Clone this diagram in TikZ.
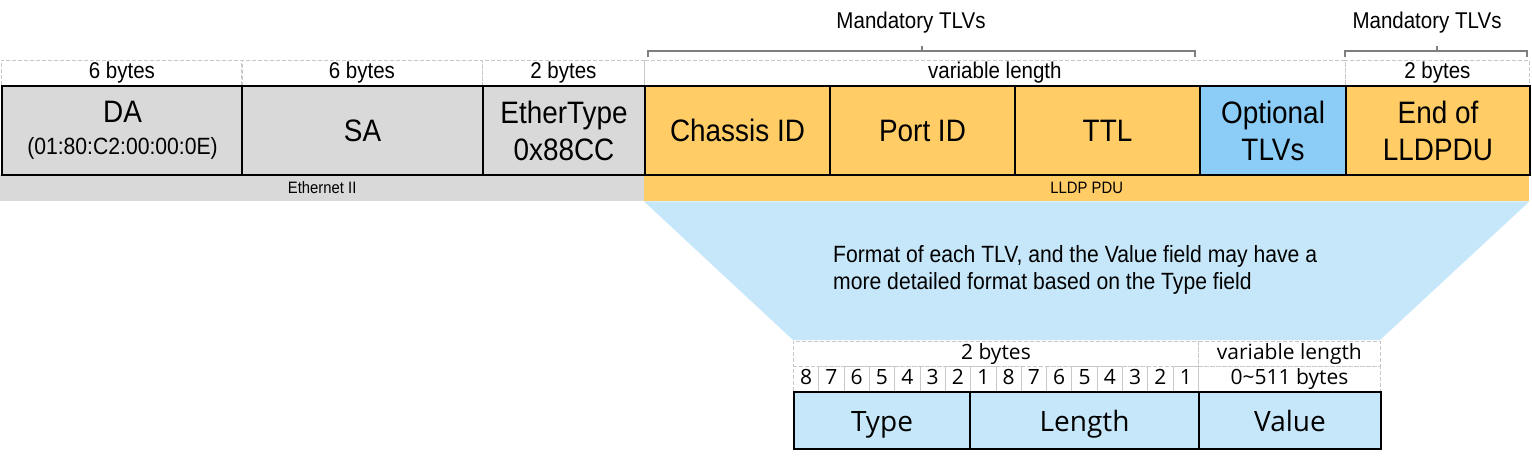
\documentclass[tikz,border=0pt]{standalone}
\usepackage{fontspec}
\setmainfont{Liberation Sans}[FakeStretch=0.9]
\newfontfamily\osfont{Open Sans}
\definecolor{ethgray}{HTML}{D9D9D9}
\definecolor{lorange}{HTML}{FFCC66}
\definecolor{optblue}{HTML}{8BCDF7}
\definecolor{tlvblue}{HTML}{C6E7FA}
\definecolor{dashgray}{HTML}{C8C8C8}
\definecolor{brgray}{HTML}{7F7F7F}
\begin{document}
\begin{tikzpicture}[x=1pt,y=-1pt,
  field/.style={draw=black,line width=2pt,anchor=north west,inner sep=0pt,minimum height=89pt,align=center,font=\fontsize{31}{37}\selectfont},
  strip/.style={anchor=north west,inner sep=0pt,minimum height=27pt,text height=12pt,text depth=0pt,font=\fontsize{16.5}{18}\selectfont},
  lbl/.style={draw=dashgray,dashed,dash pattern=on 4pt off 2pt,line width=0.8pt,anchor=north west,inner sep=0pt,minimum height=25pt,text height=15pt,text depth=4pt,font=\fontsize{22.8}{26}\selectfont},
  blbl/.style={lbl,font=\osfont\fontsize{21}{24}\selectfont},
  bit/.style={blbl,minimum width=25.3125pt},
  tfield/.style={draw=black,line width=2pt,anchor=north west,inner sep=0pt,minimum height=57pt,text height=24pt,text depth=3pt,fill=tlvblue,font=\osfont\fontsize{28}{32}\selectfont},
  bracket/.style={draw=brgray,line width=1.2pt},
  note/.style={font=\fontsize{22.8}{26}\selectfont,inner sep=0pt}
]
\useasboundingbox (0,0) rectangle (1532,456);

% size labels (top)
\node[lbl,minimum width=241pt] (l1) at (1,60) {6 bytes};
\node[lbl,minimum width=241pt] (l2) at (241,60) {6 bytes};
\node[lbl,minimum width=162pt] (l3) at (482,60) {2 bytes};
\node[lbl,minimum width=701pt] (l4) at (644,60) {variable length};
\node[lbl,minimum width=184pt] (l5) at (1345,60) {2 bytes};

% brackets
\draw[bracket] (648,57) -- (648,51) -- (1195,51) -- (1195,57);
\draw[bracket] (922,51) -- (922,46);
\node[note] (m1) at (911,23) {Mandatory TLVs};
\draw[bracket] (1345,57) -- (1345,51) -- (1527,51) -- (1527,57);
\draw[bracket] (1437,51) -- (1437,46);
\node[note] (m2) at (1427,23) {Mandatory TLVs};

% strips
\node[strip,fill=ethgray,minimum width=644pt] (eth) at (0,174) {Ethernet II};
\node[strip,fill=lorange,minimum width=885pt] (lldp) at (644,174) {LLDP PDU};

% trapezoid
\fill[tlvblue] (lldp.south west) -- (lldp.south east) -- (1380,340) -- (793,340) -- cycle;
\node[note,anchor=north west,align=left,font=\fontsize{23.5}{27}\selectfont] (fmt) at (833,245)
  {Format of each TLV, and the Value field may have a\\more detailed format based on the Type field};

% main fields
\node[field,fill=ethgray,minimum width=241pt] (da) at (1,85) {DA\\[-5pt]{\fontsize{23.5}{26}\selectfont (01:80:C2:00:00:0E)}};
\node[field,fill=ethgray,minimum width=241pt] (sa) at (241,85) {SA};
\node[field,fill=ethgray,minimum width=162pt] (et) at (482,85) {EtherType\\0x88CC};
\node[field,fill=lorange,minimum width=185pt] (ch) at (644,85) {Chassis ID};
\node[field,fill=lorange,minimum width=185pt] (pid) at (829,85) {Port ID};
\node[field,fill=lorange,minimum width=185pt] (ttl) at (1014,85) {TTL};
\node[field,fill=optblue,minimum width=146pt] (opt) at (1199,85) {Optional\\TLVs};
\node[field,fill=lorange,minimum width=184pt] (end) at (1345,85) {End of\\LLDPDU};

% TLV format
\node[blbl,minimum width=405pt] (two) at (793,341) {2 bytes};
\node[blbl,minimum width=182pt] (var) at (1198,341) {variable length};
\foreach \d [count=\i from 0] in {8,7,6,5,4,3,2,1,8,7,6,5,4,3,2,1} {
  \node[bit] (b\i) at ({793+25.3125*\i},366) {\d};
}
\node[blbl,minimum width=182pt] (rng) at (1198,366) {0\textasciitilde511 bytes};
\node[tfield,minimum width=176pt] (type) at (793,391) {Type};
\node[tfield,minimum width=229pt] (len) at (969,391) {Length};
\node[tfield,minimum width=182pt] (val) at (1198,391) {Value};
\end{tikzpicture}
\end{document}
